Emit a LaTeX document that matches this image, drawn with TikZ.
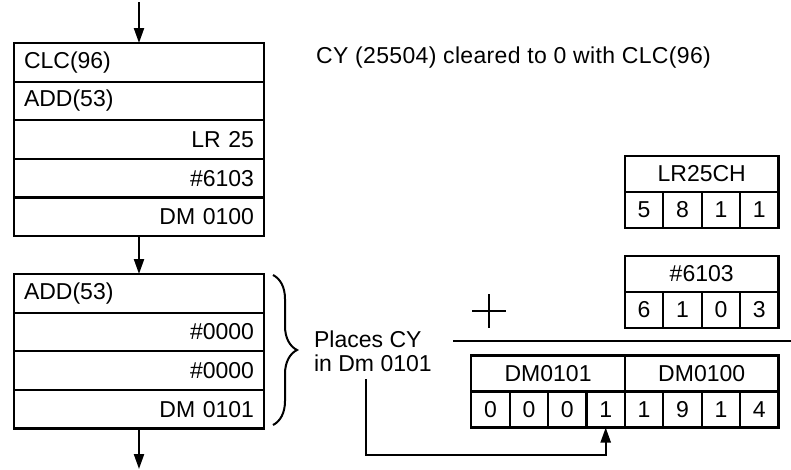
\documentclass[tikz,border=0pt]{standalone}
\usepackage{fontspec}
\setmainfont{Liberation Sans}
\usetikzlibrary{arrows.meta,decorations.pathreplacing}
\begin{document}
\begin{tikzpicture}[x=1pt,y=-1pt,
  font=\fontsize{23}{25}\selectfont,
  line width=2.2pt,
  row/.style={draw, minimum width=250pt, minimum height=38.6pt, text width=230pt,
    inner xsep=10pt, inner ysep=0pt, outer sep=0pt, anchor=north west},
  rowl/.style={row, align=left},
  rowr/.style={row, align=right},
  cell/.style={draw, minimum width=38.4pt, minimum height=36pt, inner sep=0pt,
    outer sep=0pt, anchor=north west},
  head/.style={cell, minimum width=153.6pt},
  flow/.style={-{Triangle[length=15pt,width=10pt]}},
  txt/.style={anchor=base west, inner sep=0pt}]
\useasboundingbox (0,0) rectangle (791,469);

% left program box 1
\node[rowl] (a1) at (14,43)    {CLC(96)};
\node[rowl] (a2) at (14,81.6)  {ADD(53)};
\node[rowr] (a3) at (14,120.2) {LR 25};
\node[rowr] (a4) at (14,158.8) {\#6103};
\node[rowr] (a5) at (14,197.4) {DM 0100};

% left program box 2
\node[rowl] (b1) at (14,274)   {ADD(53)};
\node[rowr] (b2) at (14,312.6) {\#0000};
\node[rowr] (b3) at (14,351.2) {\#0000};
\node[rowr] (b4) at (14,389.8) {DM 0101};

% flow arrows
\coordinate (ftop) at (139,2);
\coordinate (fbot) at (139,469);
\draw[flow] (ftop) -- (a1.north);
\draw[flow] (a5.south) -- (b1.north);
\draw[flow] (b4.south) -- (fbot);

% texts
\node[txt, font=\fontsize{23}{25}\selectfont\addfontfeature{LetterSpace=1.5}] (title) at (315,63) {CY (25504) cleared to 0 with CLC(96)};
\node[txt] (p1) at (313,347) {Places CY};
\node[txt] (p2) at (313,371) {in Dm 0101};

% brace
\coordinate (bt) at (273,275);
\coordinate (bb) at (273,425);
\draw[line width=2pt, decorate, decoration={brace, amplitude=24pt}] (bt) -- (bb);

% LR25CH
\node[head] (lrh) at (624.9,156) {LR25CH};
\node[cell] (l1) at (624.9,192) {5};
\node[cell] (l2) at (663.3,192) {8};
\node[cell] (l3) at (701.7,192) {1};
\node[cell] (l4) at (740.1,192) {1};

% #6103
\node[head] (kh) at (624.9,256) {\#6103};
\node[cell] (k1) at (624.9,292) {6};
\node[cell] (k2) at (663.3,292) {1};
\node[cell] (k3) at (701.7,292) {0};
\node[cell] (k4) at (740.1,292) {3};

% plus and rule
\coordinate (plus) at (489,311);
\draw[line width=1.6pt] (plus) +(-17,0) -- +(17,0) (plus) +(0,-17) -- +(0,17);
\coordinate (r1) at (453,341);
\coordinate (r2) at (791,341);
\draw (r1) -- (r2);

% result
\node[head] (dh1) at (471.3,355.5) {DM0101};
\node[head] (dh2) at (624.9,355.5) {DM0100};
\node[cell] (d1) at (471.3,391.5) {0};
\node[cell] (d2) at (509.7,391.5) {0};
\node[cell] (d3) at (548.1,391.5) {0};
\node[cell] (d4) at (586.5,391.5) {1};
\node[cell] (d5) at (624.9,391.5) {1};
\node[cell] (d6) at (663.3,391.5) {9};
\node[cell] (d7) at (701.7,391.5) {1};
\node[cell] (d8) at (740.1,391.5) {4};

% connector
\coordinate (cs) at (366,379);
\coordinate (cb) at (366,455);
\draw[flow] (cs) -- (cb) -| (d4.south);
\end{tikzpicture}
\end{document}
